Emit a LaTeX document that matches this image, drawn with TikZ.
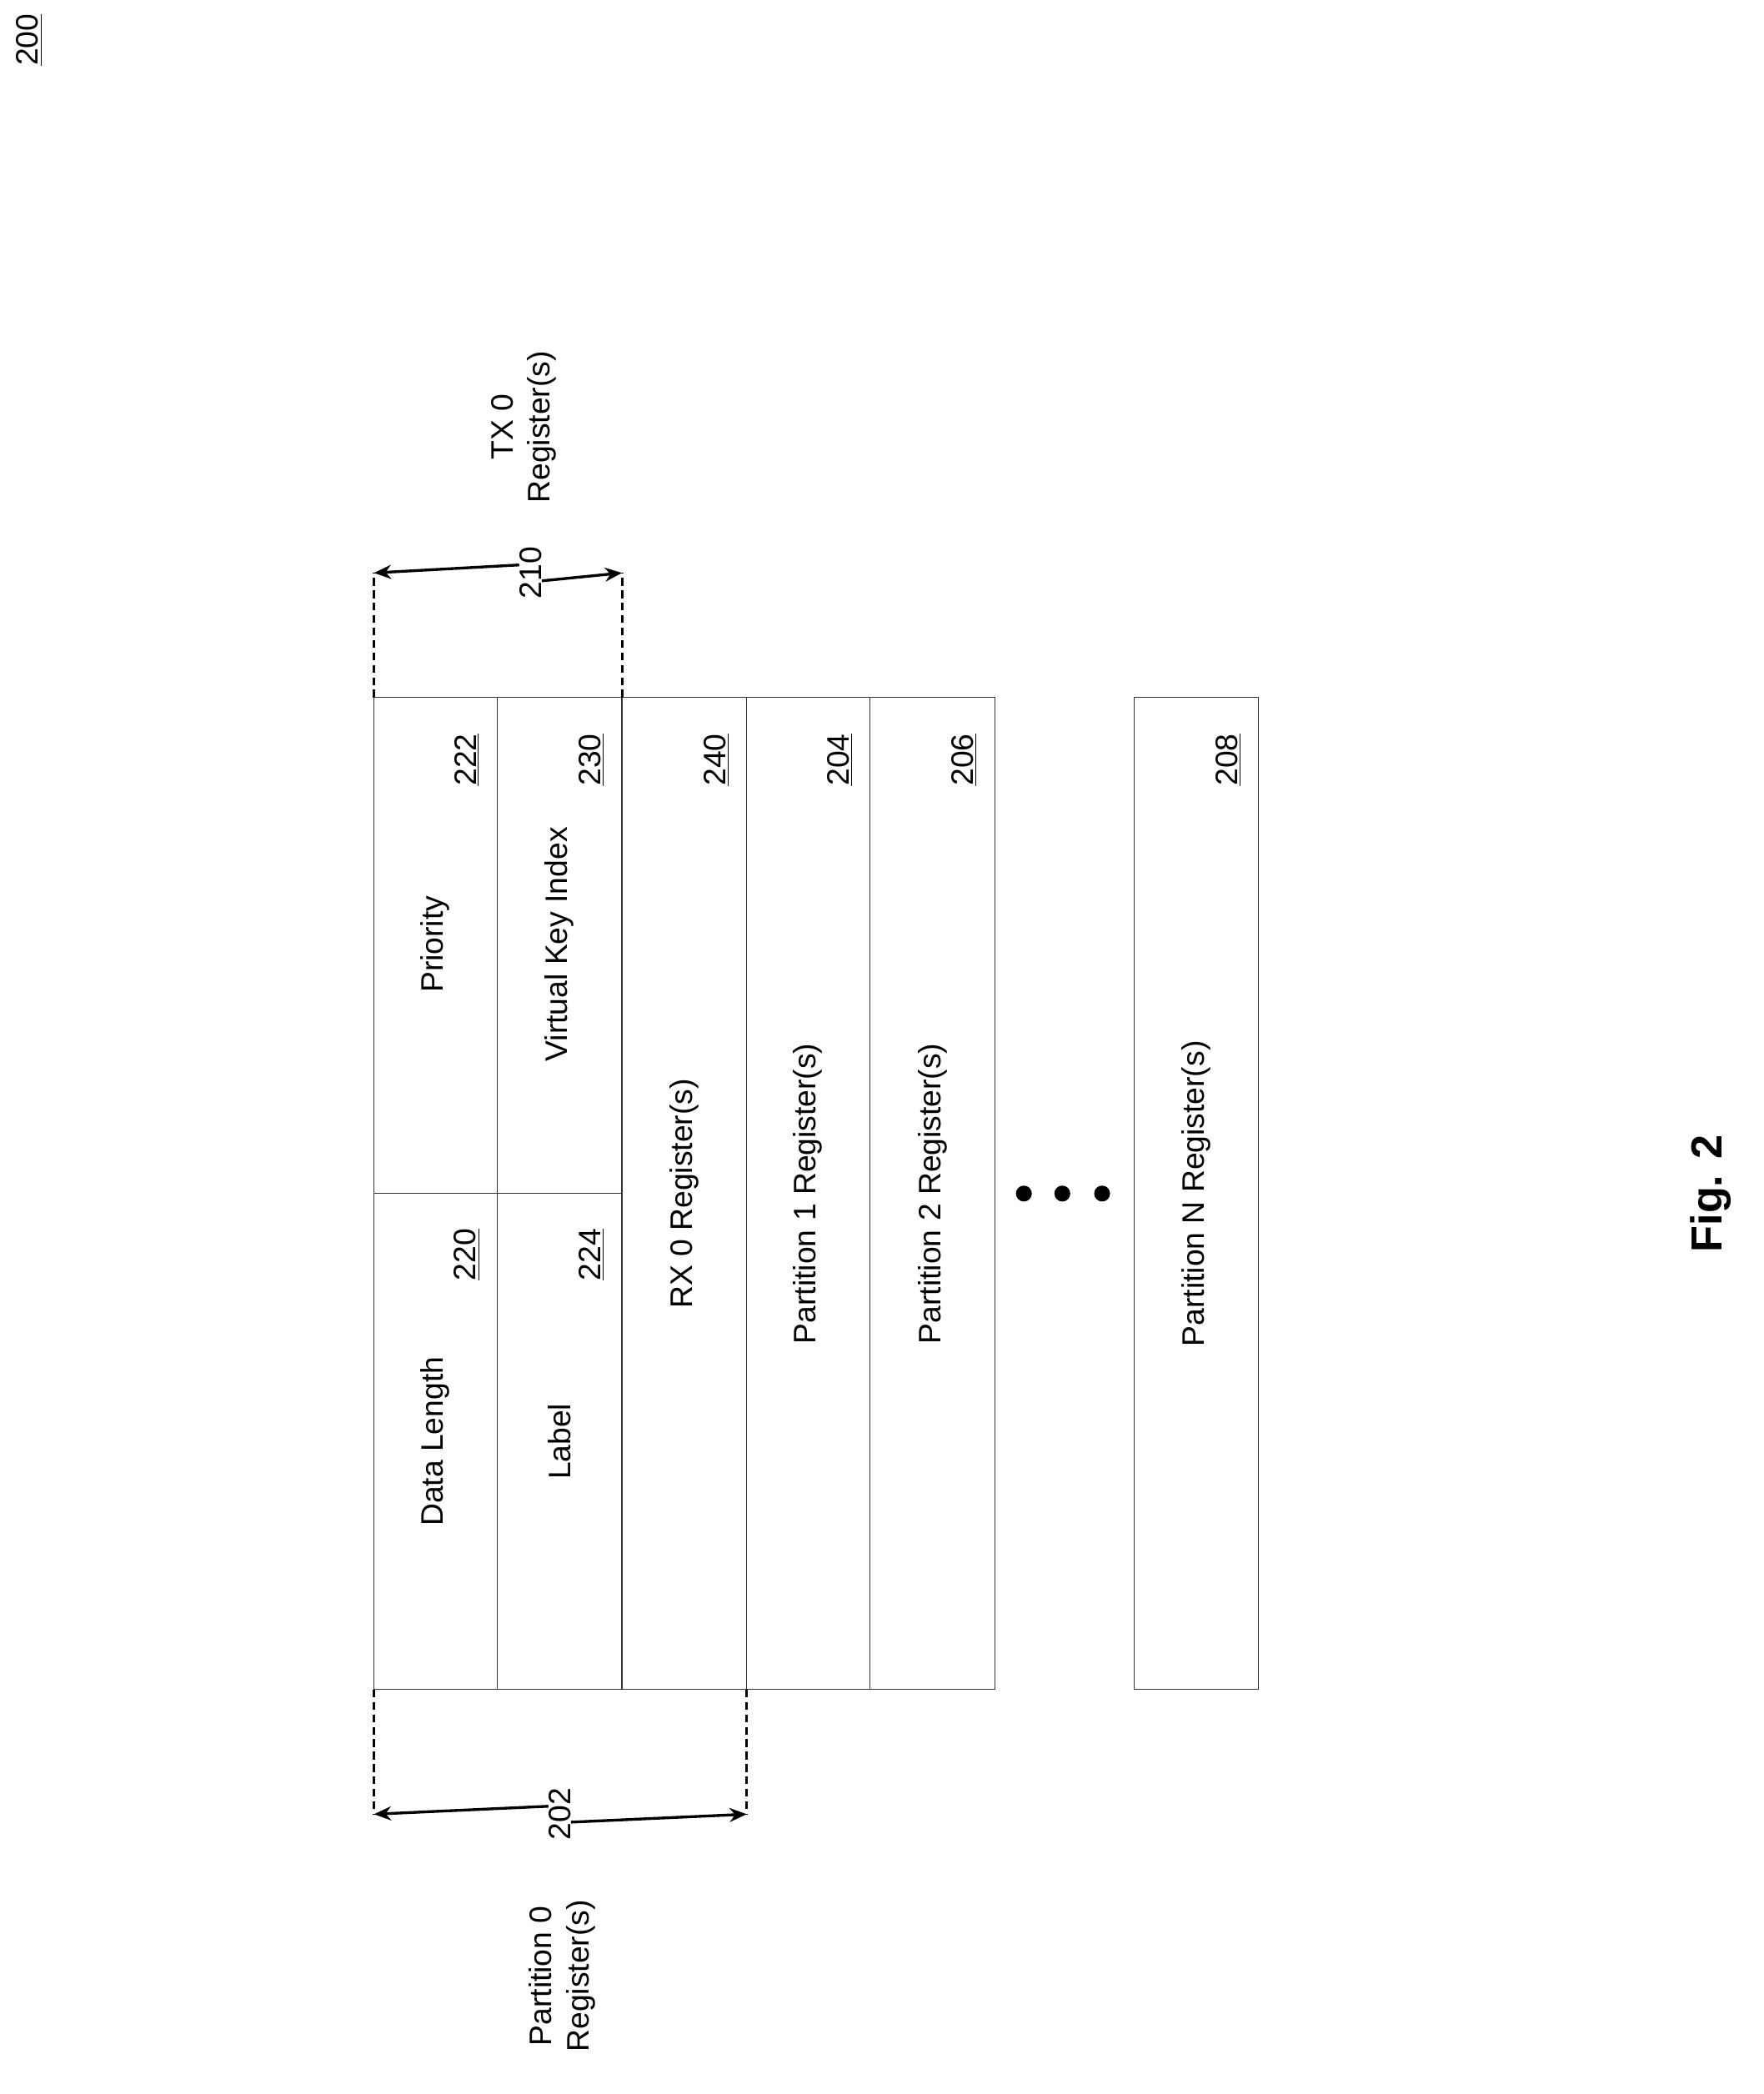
\documentclass[tikz,border=0pt]{standalone}
\usepackage{fontspec}
\setmainfont{Liberation Sans}
\usetikzlibrary{arrows.meta}
\begin{document}
\begin{tikzpicture}[x=0.3mm,y=-0.3mm,
  cell/.style={draw=black!80,line width=0.7pt},
  txt/.style={rotate=90,font=\fontsize{20}{24}\selectfont,inner sep=0pt},
  num/.style={txt,font=\fontsize{20}{24}\selectfont},
  dim/.style={line width=1.8pt,-{Stealth[length=11pt,width=9pt]}},
  dsh/.style={line width=1.6pt,dash pattern=on 5pt off 3pt}]
\useasboundingbox (0,0) rectangle (1330,1579);
% cells
\draw[cell] (282,526) rectangle (750,1274);
\foreach \x in {375,469,563,656} \draw[cell] (\x,526) -- (\x,1274);
\draw[cell] (282,900) -- (469,900);
\draw[cell] (855,526) rectangle (949,1274);
% texts
\node[txt] (dl) at (328,1087) {Data Length};
\node[num] (n220) at (352,946) {\underline{220}};
\node[txt] (pr) at (328,712) {Priority};
\node[num] (n222) at (352,573) {\underline{222}};
\node[txt] (lb) at (422,1087) {Label};
\node[num] (n224) at (446,946) {\underline{224}};
\node[txt] (vk) at (422,712) {Virtual Key Index};
\node[num] (n230) at (446,573) {\underline{230}};
\node[txt] (rx) at (516,900) {RX 0 Register(s)};
\node[num] (n240) at (540,573) {\underline{240}};
\node[txt] (p1) at (609,900) {Partition 1 Register(s)};
\node[num] (n204) at (633,573) {\underline{204}};
\node[txt] (p2) at (703,900) {Partition 2 Register(s)};
\node[num] (n206) at (727,573) {\underline{206}};
\node[txt] (pn) at (902,900) {Partition N Register(s)};
\node[num] (n208) at (926,573) {\underline{208}};
% dots
\foreach \x in {772,801,831} \fill (\x,900) circle (6);
% top dimension
\coordinate (t1) at (282,526); \coordinate (t2) at (469,526);
\coordinate (t1u) at (282,432); \coordinate (t2u) at (469,432);
\draw[dsh] (t1) -- (t1u); \draw[dsh] (t2) -- (t2u);
\node[num] (n210) at (400,432) {210};
\draw[dim] (n210.north) ++(0,-6) -- (t1u);
\draw[dim] (n210.south) ++(0,6) -- (t2u);
\node[txt,align=center] (tx) at (395,322) {TX 0\\Register(s)};
% bottom dimension
\coordinate (b1) at (282,1274); \coordinate (b2) at (563,1274);
\coordinate (b1d) at (282,1368); \coordinate (b2d) at (563,1368);
\draw[dsh] (b1) -- (b1d); \draw[dsh] (b2) -- (b2d);
\node[num] (n202) at (422,1368) {202};
\draw[dim] (n202.north) ++(0,-6) -- (b1d);
\draw[dim] (n202.south) ++(0,6) -- (b2d);
\node[txt,align=center] (p0) at (424,1490) {Partition 0\\Register(s)};
% figure number
\node[num] (n200) at (22,30) {\underline{200}};
\node[rotate=90,font=\fontsize{28}{32}\selectfont\bfseries] (fig) at (1290,900) {Fig. 2};
\end{tikzpicture}
\end{document}
